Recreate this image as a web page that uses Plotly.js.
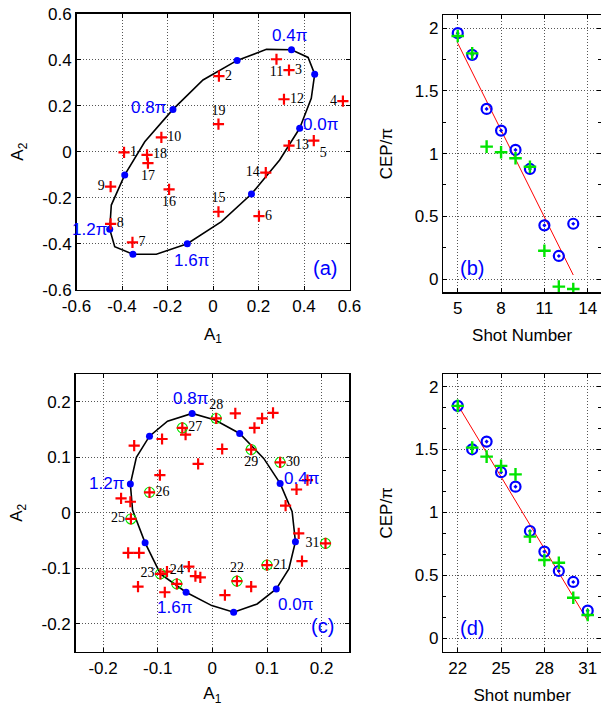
<!DOCTYPE html>
<html><head><meta charset="utf-8">
<script src="https://cdn.plot.ly/plotly-3.0.1.min.js"></script>
<style>html,body{margin:0;padding:0;background:#fff;overflow:hidden}</style>
</head><body><div id="chart" style="width:601px;height:706px"></div>
<script>
// ---------- Panel (a): ellipse (vertices every 0.1π, dots every 0.2π) ----------
const ellAX = [0.381,0.432,0.447,0.418,0.345,0.235,0.106,-0.044,-0.176,-0.300,-0.388,-0.447,-0.454,-0.432,-0.352,-0.249,-0.113,0.037,0.169,0.293];
const ellAY = [0.102,0.232,0.337,0.410,0.443,0.445,0.397,0.312,0.184,0.043,-0.101,-0.232,-0.337,-0.413,-0.446,-0.446,-0.400,-0.304,-0.184,-0.036];
// shots 1..19
const shotALabels = ['1','2','3','4','5','6','7','8','9','10','11','12','13','14','15','16','17','18','19'];
const shotAX = [-0.391,0.026,0.334,0.571,0.443,0.202,-0.354,-0.450,-0.450,-0.227,0.279,0.312,0.334,0.232,0.024,-0.193,-0.286,-0.290,0.024];
const shotAY = [-0.003,0.329,0.355,0.220,0.048,-0.280,-0.394,-0.314,-0.152,0.062,0.402,0.228,0.026,-0.091,-0.261,-0.164,-0.050,-0.014,0.120];

// ---------- Panel (b) ----------
const shotsB = [5,6,7,8,9,10,11,12,13];
const cepB_circle = [1.961,1.788,1.357,1.184,1.030,0.878,0.428,0.184,0.441];
const cepB_cross  = [1.939,1.800,1.056,1.011,0.963,0.896,0.226,-0.061,-0.080];
const fitBX = [5,13];
const fitBY = [1.881,0.032];

// ---------- Panel (c) ----------
const ellCX = [0.117,0.140,0.152,0.146,0.124,0.094,0.050,0.005,-0.037,-0.082,-0.115,-0.139,-0.150,-0.146,-0.123,-0.095,-0.048,-0.001,0.039,0.082];
const ellCY = [-0.137,-0.101,-0.052,0.002,0.053,0.098,0.143,0.167,0.179,0.165,0.138,0.100,0.052,0.005,-0.054,-0.110,-0.143,-0.167,-0.179,-0.164];
const shotCLabels = ['21','22','23','24','25','26','27','28','29','30','31'];
const shotCX = [0.100,0.045,-0.095,-0.065,-0.149,-0.115,-0.055,0.007,0.071,0.124,0.207];
const shotCY = [-0.094,-0.123,-0.110,-0.128,-0.011,0.037,0.153,0.170,0.114,0.091,-0.055];
const otherCX = [-0.049,0.042,0.091,0.111,0.077,-0.143,-0.092,0.018,-0.026,-0.096,-0.167,-0.150,0.174,0.154,0.134,0.158,-0.154,-0.134,0.164,-0.043,-0.083,-0.031,-0.022,0.071,-0.136,-0.087,0.023];
const otherCY = [0.141,0.179,0.170,0.180,0.153,0.121,0.133,0.115,0.088,0.068,0.026,0.020,0.059,0.042,0.013,-0.037,-0.072,-0.072,-0.087,-0.097,-0.106,-0.114,-0.116,-0.133,-0.133,-0.143,-0.148];

// ---------- Panel (d) ----------
const shotsD = [22,23,24,25,26,27,28,29,30,31];
const cepD_circle = [1.847,1.502,1.563,1.320,1.205,0.853,0.689,0.535,0.448,0.220];
const cepD_cross  = [1.847,1.515,1.444,1.370,1.303,0.808,0.622,0.601,0.323,0.185];
const fitDX = [22,31];
const fitDY = [1.855,0.140];

// tick labels
const tickA = [-0.6,-0.4,-0.2,0,0.2,0.4,0.6];
const tickAText = ['-0.6','-0.4','-0.2','0','0.2','0.4','0.6'];
const tickC = [-0.2,-0.1,0,0.1,0.2];
const tickCText = ['-0.2','-0.1','0','0.1','0.2'];
const tickBX = [5,8,11,14];
const tickDX = [22,25,28,31];
const tickCEP = [0,0.5,1,1.5,2];
const tickCEPText = ['0','0.5','1','1.5','2'];
const phaseLabels = ['0.0π','0.4π','0.8π','1.2π','1.6π'];
const panelLabels = ['(a)','(b)','(c)','(d)'];

// ---------- build ----------
const close = a => a.concat([a[0]]);
const even = a => a.filter((v,i)=>i%2===0);
const RED = '#ff0000', BLUE = '#0000ff', GREEN = '#00e400';
const crossRed = {symbol:'cross-thin-open', size:8, color:RED, line:{width:2.2, color:RED}};
const crossGreen = {symbol:'cross-thin-open', size:9, color:GREEN, line:{width:2.4, color:GREEN}};
const circDot = {symbol:'circle-open-dot', size:10, color:BLUE, line:{width:2.2, color:BLUE}};
const serif = {family:'Liberation Serif, Times New Roman, serif', size:14, color:'#000'};

const posA = ['middle right','middle right','middle right','middle left','bottom right','middle right','middle right','middle right','middle left','middle right','bottom center','middle right','middle right','middle left','top center','bottom center','bottom center','middle right','top center'];
const posC = ['middle right','top center','middle left','top center','middle left','middle right','middle right','top center','bottom center','middle right','middle left'];

const traces = [
  {x:close(ellAX), y:close(ellAY), mode:'lines', line:{color:'#000', width:1.6}, xaxis:'x', yaxis:'y', hoverinfo:'skip'},
  {x:even(ellAX), y:even(ellAY), mode:'markers', marker:{color:BLUE, size:7}, xaxis:'x', yaxis:'y'},
  {x:shotAX, y:shotAY, mode:'markers+text', text:shotALabels, textposition:posA, textfont:serif, marker:crossRed, xaxis:'x', yaxis:'y'},

  {x:fitBX, y:fitBY, mode:'lines', line:{color:RED, width:1}, xaxis:'x2', yaxis:'y2'},
  {x:shotsB, y:cepB_circle, mode:'markers', marker:circDot, xaxis:'x2', yaxis:'y2'},
  {x:shotsB, y:cepB_cross, mode:'markers', marker:crossGreen, xaxis:'x2', yaxis:'y2'},

  {x:close(ellCX), y:close(ellCY), mode:'lines', line:{color:'#000', width:1.6}, xaxis:'x3', yaxis:'y3', hoverinfo:'skip'},
  {x:even(ellCX), y:even(ellCY), mode:'markers', marker:{color:BLUE, size:7}, xaxis:'x3', yaxis:'y3'},
  {x:otherCX, y:otherCY, mode:'markers', marker:crossRed, xaxis:'x3', yaxis:'y3'},
  {x:shotCX, y:shotCY, mode:'markers', marker:{symbol:'circle-open', size:10, color:GREEN, line:{width:1.1, color:GREEN}}, xaxis:'x3', yaxis:'y3'},
  {x:shotCX, y:shotCY, mode:'markers+text', text:shotCLabels, textposition:posC, textfont:serif, marker:crossRed, xaxis:'x3', yaxis:'y3'},

  {x:fitDX, y:fitDY, mode:'lines', line:{color:RED, width:1}, xaxis:'x4', yaxis:'y4'},
  {x:shotsD, y:cepD_circle, mode:'markers', marker:circDot, xaxis:'x4', yaxis:'y4'},
  {x:shotsD, y:cepD_cross, mode:'markers', marker:crossGreen, xaxis:'x4', yaxis:'y4'}
];

const W = 601, H = 706;
const fx = p => p / W, fy = p => 1 - p / H;
const tickFont = {family:'Liberation Sans, Arial, sans-serif', size:17, color:'#000'};
const titleFont = {family:'Liberation Sans, Arial, sans-serif', size:17, color:'#000'};
function ax(extra){
  return Object.assign({
    showline:true, linecolor:'#000', linewidth:1.5, mirror:'ticks',
    ticks:'inside', ticklen:4, tickwidth:1, tickcolor:'#000',
    showgrid:true, gridcolor:'#555', gridwidth:1, griddash:'1px,2px',
    zeroline:false, tickmode:'array', tickfont:tickFont, fixedrange:true
  }, extra);
}
const layout = {
  width:W, height:H, margin:{l:0,r:0,t:0,b:0}, showlegend:false,
  paper_bgcolor:'#fff', plot_bgcolor:'#fff',
  xaxis: ax({domain:[fx(76.5), fx(349.5)], range:[-0.6,0.6], tickvals:tickA, ticktext:tickAText, anchor:'y',
            title:{text:'A<sub>1</sub>', font:titleFont, standoff:13}}),
  yaxis: ax({domain:[fy(289.7), fy(13.7)], range:[-0.6,0.6], tickvals:tickA, ticktext:tickAText, anchor:'x',
            title:{text:'A<sub>2</sub>', font:titleFont, standoff:14}}),
  xaxis2: ax({domain:[fx(443.3), 1], range:[4, 14.92], tickvals:tickBX, anchor:'y2',
            title:{text:'Shot Number', font:titleFont, standoff:12}}),
  yaxis2: ax({domain:[fy(292.3), fy(15)], range:[-0.106, 2.106], tickvals:tickCEP, ticktext:tickCEPText, anchor:'x2',
            minor:{ticks:'inside', ticklen:3, dtick:0.25, showgrid:false, tickcolor:'#000'},
            title:{text:'CEP/π', font:titleFont, standoff:18}}),
  xaxis3: ax({domain:[fx(75.7), fx(349)], range:[-0.25,0.25], tickvals:tickC, ticktext:tickCText, anchor:'y3',
            title:{text:'A<sub>1</sub>', font:titleFont, standoff:12}}),
  yaxis3: ax({domain:[fy(651.7), fy(374)], range:[-0.25,0.25], tickvals:tickC, ticktext:tickCText, anchor:'x3',
            title:{text:'A<sub>2</sub>', font:titleFont, standoff:14}}),
  xaxis4: ax({domain:[fx(443.3), 1], range:[21, 31.92], tickvals:tickDX, anchor:'y4',
            title:{text:'Shot number', font:titleFont, standoff:12}}),
  yaxis4: ax({domain:[fy(651.7), fy(374)], range:[-0.106, 2.1], tickvals:tickCEP, ticktext:tickCEPText, anchor:'x4',
            minor:{ticks:'inside', ticklen:3, dtick:1/6, showgrid:false, tickcolor:'#000'},
            title:{text:'CEP/π', font:titleFont, standoff:18}}),
  annotations: []
};
const phaseFont = {family:'Liberation Sans, Arial, sans-serif', size:17, color:BLUE};
const dotsA = [0,4,8,12,16], dotsC = [0,4,8,12,16];
const aSty = [
  {xanchor:'left', yanchor:'middle', xshift:1, yshift:4},
  {xanchor:'center', yanchor:'bottom', xshift:-2, yshift:3},
  {xanchor:'right', yanchor:'middle', xshift:-5, yshift:2},
  {xanchor:'right', yanchor:'middle', xshift:-1, yshift:0},
  {xanchor:'center', yanchor:'top', xshift:4, yshift:-5}
];
const cSty = [
  {xanchor:'left', yanchor:'top', xshift:0, yshift:-4},
  {xanchor:'left', yanchor:'middle', xshift:2, yshift:5},
  {xanchor:'center', yanchor:'bottom', xshift:-2, yshift:3},
  {xanchor:'right', yanchor:'middle', xshift:-4, yshift:0},
  {xanchor:'center', yanchor:'top', xshift:-12, yshift:-4}
];
dotsA.forEach((idx,k)=>layout.annotations.push(Object.assign({x:ellAX[idx], y:ellAY[idx], xref:'x', yref:'y', text:phaseLabels[k], showarrow:false, font:phaseFont}, aSty[k])));
dotsC.forEach((idx,k)=>layout.annotations.push(Object.assign({x:ellCX[idx], y:ellCY[idx], xref:'x3', yref:'y3', text:phaseLabels[k], showarrow:false, font:phaseFont}, cSty[k])));
const panelPos = [[325,268],[471.7,268.3],[322,626],[471.7,628.3]];
panelLabels.forEach((t,k)=>layout.annotations.push({x:fx(panelPos[k][0]), y:fy(panelPos[k][1]), xref:'paper', yref:'paper', text:t, showarrow:false, xanchor:'center', yanchor:'middle', font:{family:'Liberation Sans, Arial, sans-serif', size:20, color:BLUE}}));

Plotly.newPlot('chart', traces, layout, {staticPlot:true, displayModeBar:false});
</script></body></html>
